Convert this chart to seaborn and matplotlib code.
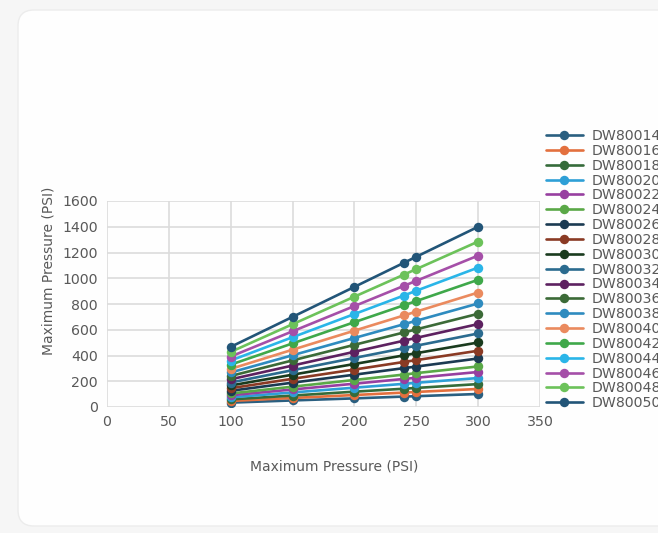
import numpy as np
import pandas as pd
import matplotlib.pyplot as plt
import seaborn as sns
from matplotlib.lines import Line2D
from matplotlib.patches import FancyBboxPatch
from matplotlib.transforms import IdentityTransform

# ── data ────────────────────────────────────────────────────────────────────
pressure_x = [100, 150, 200, 240, 250, 300]

dw80014 = [34, 51, 67, 81, 84, 101]
dw80016 = [47, 70, 93, 112, 117, 140]
dw80018 = [59, 89, 119, 142, 148, 178]
dw80020 = [75, 113, 150, 180, 188, 225]
dw80022 = [91, 136, 181, 218, 227, 272]
dw80024 = [105, 158, 210, 252, 263, 315]
dw80026 = [126, 189, 251, 302, 314, 377]
dw80028 = [146, 219, 291, 350, 364, 437]
dw80030 = [167, 251, 334, 401, 418, 501]
dw80032 = [190, 286, 381, 457, 476, 571]
dw80034 = [215, 322, 429, 515, 537, 644]
dw80036 = [241, 362, 483, 579, 603, 724]
dw80038 = [268, 402, 536, 643, 670, 804]
dw80040 = [296, 445, 593, 711, 741, 889]
dw80042 = [329, 494, 659, 790, 823, 988]
dw80044 = [361, 542, 722, 866, 903, 1083]
dw80046 = [392, 588, 784, 941, 980, 1176]
dw80048 = [428, 643, 857, 1028, 1071, 1285]
dw80050 = [467, 700, 933, 1120, 1167, 1400]

series_names = ["DW80014", "DW80016", "DW80018", "DW80020", "DW80022",
                "DW80024", "DW80026", "DW80028", "DW80030", "DW80032",
                "DW80034", "DW80036", "DW80038", "DW80040", "DW80042",
                "DW80044", "DW80046", "DW80048", "DW80050"]
series_values = [dw80014, dw80016, dw80018, dw80020, dw80022, dw80024,
                 dw80026, dw80028, dw80030, dw80032, dw80034, dw80036,
                 dw80038, dw80040, dw80042, dw80044, dw80046, dw80048,
                 dw80050]

colors = ["#2a5f80", "#e3703e", "#356b3a", "#2e9fd6", "#973fa0",
          "#5aa847", "#1b3a52", "#8a3a24", "#1a3b1e", "#2b6b8f",
          "#5d2160", "#3b6a37", "#2e8bbf", "#ea8a5e", "#3fa84a",
          "#2ab5e8", "#a54fa8", "#6cc25a", "#225578"]

x_ticks = [0, 50, 100, 150, 200, 250, 300, 350]
y_ticks = [0, 200, 400, 600, 800, 1000, 1200, 1400, 1600]

# long-form table for seaborn
df = pd.DataFrame(
    [(name, x, v) for name, vals in zip(series_names, series_values)
     for x, v in zip(pressure_x, vals)],
    columns=["series", "x", "pressure"],
)

sns.set_theme(style="whitegrid")
plt.rcParams["font.family"] = ["DejaVu Sans"]

fig = plt.figure(figsize=(6.58, 5.33), dpi=100, facecolor="#f6f6f6")

# white rounded card behind the chart
card = FancyBboxPatch((18, 7), 720, 516, boxstyle="round,pad=0,rounding_size=16",
                      facecolor="#fefefe", edgecolor="#ececec", linewidth=1.0,
                      transform=IdentityTransform(), zorder=-5)
fig.patches.append(card)

ax = fig.add_axes([107 / 658, 1 - 407 / 533, 433 / 658, 206 / 533])
ax.set_facecolor("none")
ax.set_zorder(2)

sns.lineplot(data=df, x="x", y="pressure", hue="series", hue_order=series_names,
             palette=colors, marker="o", markersize=6.8, markeredgewidth=0,
             linewidth=1.9, legend=False, ax=ax, zorder=3)

ax.set_xlim(0, 350)
ax.set_ylim(0, 1600)
ax.set_xticks(x_ticks)
ax.set_yticks(y_ticks)
ax.grid(True, color="#dcdcdc", linewidth=1.2)
for s in ax.spines.values():
    s.set_visible(False)
ax.tick_params(axis="both", length=0, labelsize=10.2, labelcolor="#595959")
ax.tick_params(axis="y", pad=6.5)
ax.tick_params(axis="x", pad=5.5)

ax.set_xlabel("Maximum Pressure (PSI)", fontsize=10, color="#595959")
ax.set_ylabel("Maximum Pressure (PSI)", fontsize=10, color="#595959")
ax.xaxis.set_label_coords(0.524, -0.29)
ax.yaxis.set_label_coords(-0.136, 0.66)
ax.xaxis.label.set_va("center")
ax.yaxis.label.set_va("center")

handles = [Line2D([], [], color=c, marker="o", markersize=6.8, markeredgewidth=0,
                  linewidth=1.9) for c in colors]
leg = fig.legend(handles, series_names, loc="upper left",
                 bbox_to_anchor=(546 / 658, 1 - 129 / 533), frameon=False,
                 fontsize=10.2, labelcolor="#595959", handlelength=2.6,
                 handletextpad=0.6, labelspacing=0.06, borderpad=0,
                 borderaxespad=0)
leg.set_zorder(3)

fig.savefig("out.png", dpi=100, facecolor=fig.get_facecolor())
